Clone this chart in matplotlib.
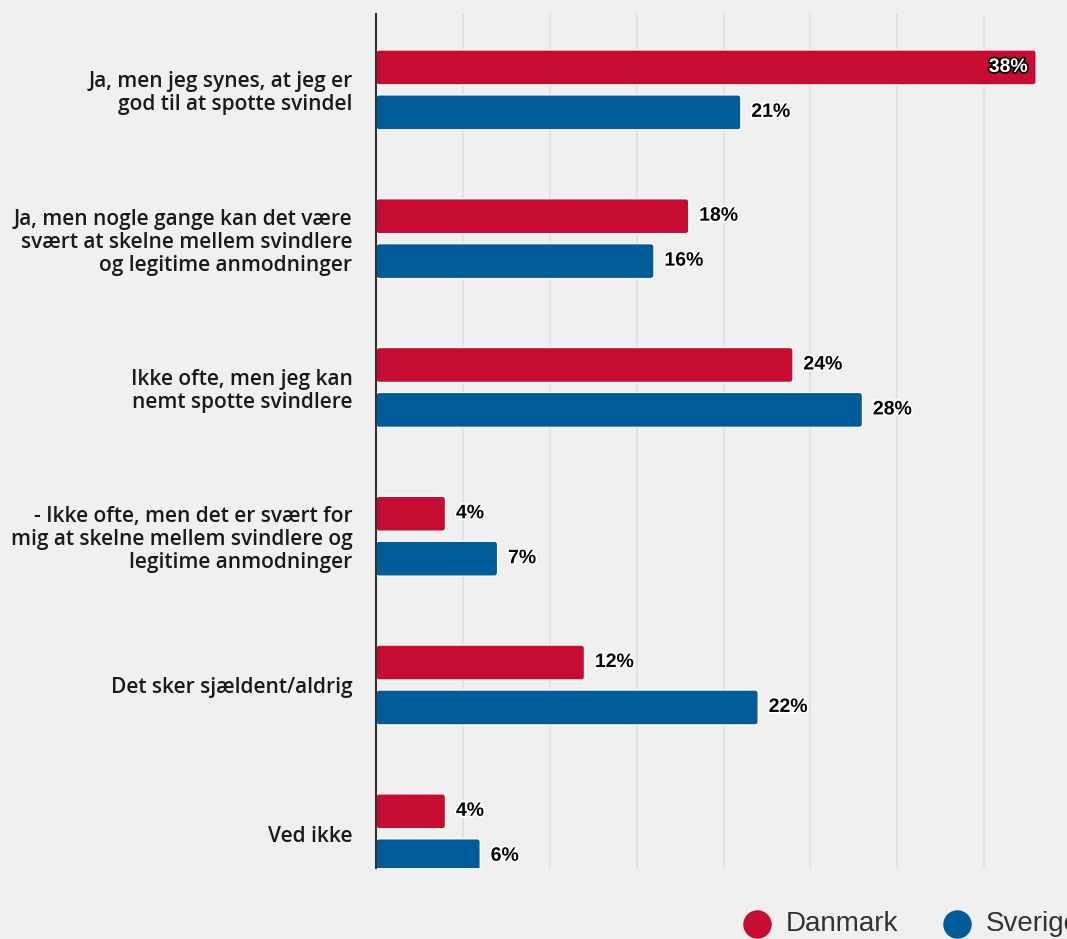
import numpy as np
import matplotlib.pyplot as plt
import matplotlib.patheffects as pe
from matplotlib.lines import Line2D
from matplotlib.patches import FancyBboxPatch

categories = [
    "Ja, men jeg synes, at jeg er\ngod til at spotte svindel",
    "Ja, men nogle gange kan det være\nsvært at skelne mellem svindlere\nog legitime anmodninger",
    "Ikke ofte, men jeg kan\nnemt spotte svindlere",
    "- Ikke ofte, men det er svært for\nmig at skelne mellem svindlere og\nlegitime anmodninger",
    "Det sker sjældent/aldrig",
    "Ved ikke",
]
series_names = ["Danmark", "Sverige"]
danmark = [38, 18, 24, 4, 12, 4]
sverige = [21, 16, 28, 7, 22, 6]

colors = ["#c60c30", "#005b99"]
bg = "#f0f0f0"

fig = plt.figure(figsize=(10.67, 9.39), dpi=100, facecolor=bg)
ax = fig.add_axes([376 / 1067, 1 - 868 / 939, 695 / 1067, (868 - 14) / 939])
ax.set_facecolor(bg)

y = np.arange(len(categories))
offset = 0.151
height = 0.235
xmax = 40

# rounded bar ends: radius in x units, aspect brings it back to ~3 px vertically
rad = 0.17
aspect = 0.118

for vals, dy, col in [(danmark, -offset, colors[0]), (sverige, offset, colors[1])]:
    for yi, v in zip(y + dy, vals):
        box = FancyBboxPatch((0, yi - height / 2), v, height,
                             boxstyle=f"round,pad=0,rounding_size={rad}",
                             mutation_aspect=aspect, facecolor=col,
                             edgecolor="white", linewidth=1, zorder=3)
        ax.add_patch(box)
        if v > xmax - 4:
            ax.annotate(f"{v}%", (v, yi), xytext=(-6, 0), textcoords="offset points",
                        ha="right", va="center", fontsize=14, fontweight="bold",
                        family="Liberation Sans", color="white", zorder=5,
                        path_effects=[pe.withStroke(linewidth=2.5, foreground="black")])
        else:
            ax.annotate(f"{v}%", (v, yi), xytext=(7.5, 0), textcoords="offset points",
                        ha="left", va="center", fontsize=14, fontweight="bold",
                        family="Liberation Sans", color="black", zorder=5,
                        path_effects=[pe.withStroke(linewidth=2.5, foreground="white")])

ax.set_xlim(0, xmax)
ax.set_ylim(5.23, -0.51)
ax.set_xticks(np.arange(5, xmax, 5))
ax.tick_params(axis="x", length=0, labelbottom=False)
ax.grid(axis="x", color="#e2e2e2", linewidth=1.5, zorder=0)
ax.set_axisbelow(True)

ax.set_yticks(y)
ax.set_yticklabels(categories, fontsize=15, family="Open Sans", fontweight="semibold",
                   color="#1a1a1a", linespacing=1.12)
ax.tick_params(axis="y", length=0, pad=17)

for s in ["top", "right", "bottom"]:
    ax.spines[s].set_visible(False)
ax.spines["left"].set_color("#333333")
ax.spines["left"].set_linewidth(1.5)
ax.spines["left"].set_zorder(6)

# legend drawn by hand so it sits where the original does
legend_x = [757, 957]
for name, col, lx in zip(series_names, colors, legend_x):
    fig.add_artist(Line2D([lx / 1067], [1 - 924 / 939], marker="o", markersize=19.5,
                          color=col, linestyle="none", transform=fig.transFigure))
    fig.text((lx + 29) / 1067, 1 - 924 / 939, name, fontsize=20, family="Liberation Sans",
             color="#333333", ha="left", va="center")

fig.savefig("out.png", dpi=100, facecolor=bg)
